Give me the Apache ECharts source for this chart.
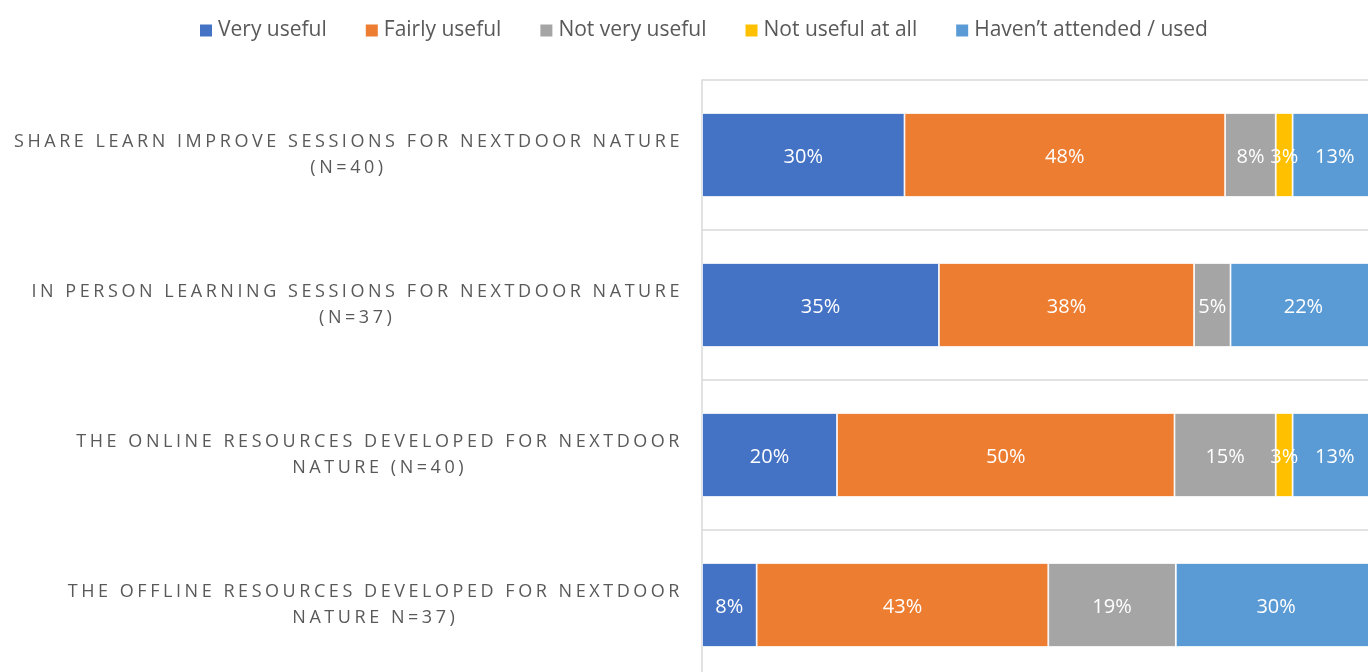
<!DOCTYPE html>
<html>
<head>
<meta charset="utf-8">
<title>Nextdoor Nature usefulness</title>
<script src="https://cdn.jsdelivr.net/npm/echarts@6/dist/echarts.min.js"></script>
<style>
  html, body { margin: 0; padding: 0; background: #fff; }
  #chart { width: 1368px; height: 672px; }
</style>
</head>
<body>
<div id="chart"></div>
<script>
var categories = [
    "SHARE LEARN IMPROVE SESSIONS FOR NEXTDOOR NATURE\n(N=40)",
    "IN PERSON LEARNING SESSIONS FOR NEXTDOOR NATURE\n(N=37)",
    "THE ONLINE RESOURCES DEVELOPED FOR NEXTDOOR\nNATURE (N=40)",
    "THE OFFLINE RESOURCES DEVELOPED FOR NEXTDOOR\nNATURE N=37)"
];
var seriesNames = ["Very useful", "Fairly useful", "Not very useful", "Not useful at all", "Haven\u2019t attended / used"];
var seriesColors = ["#4472C4", "#ED7D31", "#A5A5A5", "#FFC000", "#5B9BD5"];
// share of respondents (%), one array per answer, same order as categories
var veryUseful = [30, 35.1, 20, 8.1];
var fairlyUseful = [47.5, 37.8, 50, 43.2];
var notVeryUseful = [7.5, 5.4, 15, 18.9];
var notUsefulAtAll = [2.5, 0, 2.5, 0];
var notAttended = [12.5, 21.6, 12.5, 29.7];

// the category labels are letter-spaced, canvas can do that but echarts can't,
// so the font that carries "Arial" gets the spacing both when measured and drawn
var spacedMark = "Arial";
var spacing = 3.55;
var measureCtx = document.createElement("canvas").getContext("2d");
echarts.setPlatformAPI({
    measureText: function(text, font) {
        measureCtx.font = font;
        measureCtx.letterSpacing = "0px";
        var m = measureCtx.measureText(text);
        var extra = font && font.indexOf(spacedMark) >= 0 ? String(text).length * spacing : 0;
        return {
            width: m.width + extra,
            actualBoundingBoxAscent: m.actualBoundingBoxAscent,
            actualBoundingBoxDescent: m.actualBoundingBoxDescent
        };
    }
});
var nativeFillText = CanvasRenderingContext2D.prototype.fillText;
CanvasRenderingContext2D.prototype.fillText = function() {
    this.letterSpacing = this.font.indexOf(spacedMark) >= 0 ? spacing + "px" : "0px";
    return nativeFillText.apply(this, arguments);
};

var seriesData = [veryUseful, fairlyUseful, notVeryUseful, notUsefulAtAll, notAttended];
var series = [];
for (var i = 0; i < seriesNames.length; i++) {
    series.push({
        name: seriesNames[i],
        type: "bar",
        stack: "total",
        barWidth: 84,
        data: seriesData[i],
        itemStyle: { color: seriesColors[i], borderColor: "#fff", borderWidth: 0.8 },
        label: {
            show: true,
            position: "inside",
            offset: [0, 2],
            color: "#fff",
            fontSize: 20,
            fontFamily: "'Open Sans', sans-serif",
            formatter: function(p) {
                return p.value > 0 ? Math.round(p.value) + "%" : "";
            }
        }
    });
}

var myChart = echarts.init(document.getElementById("chart"));
myChart.setOption({
    animation: false,
    legend: {
        left: 193,
        top: 15,
        itemWidth: 14,
        itemHeight: 14,
        itemGap: 37,
        icon: "rect",
        textStyle: { color: "#595959", fontSize: 21, fontFamily: "'Open Sans', sans-serif" },
        data: seriesNames
    },
    // the plot runs past the right and bottom edges of the picture
    grid: { left: 702, top: 80, width: 675, height: 600, outerBoundsMode: "none" },
    xAxis: {
        type: "value",
        min: 0,
        max: 100,
        show: false
    },
    yAxis: {
        type: "category",
        inverse: true,
        data: categories,
        axisLine: { show: true, lineStyle: { color: "#D9D9D9", width: 1.5 } },
        axisTick: { show: false },
        splitLine: { show: true, lineStyle: { color: "#D9D9D9", width: 1.5 } },
        axisLabel: {
            margin: 19,
            formatter: function(v) {
                return v.split("\n").map(function(line) {
                    return "{c|" + line + "}";
                }).join("\n");
            },
            rich: {
                c: {
                    align: "center",
                    color: "#595959",
                    fontSize: 18,
                    lineHeight: 26,
                    fontFamily: "'Open Sans', Arial"
                }
            }
        }
    },
    series: series
});
</script>
</body>
</html>
